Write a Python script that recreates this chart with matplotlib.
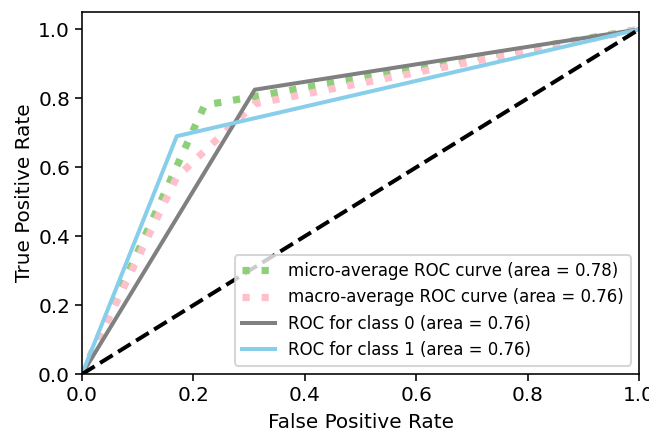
import matplotlib
matplotlib.use('Agg')
import matplotlib.pyplot as plt

# ROC points
micro_fpr = [0.0, 0.22, 1.0]
micro_tpr = [0.0, 0.78, 1.0]
macro_fpr = [0.0, 0.17, 0.31, 1.0]
macro_tpr = [0.0, 0.571, 0.784, 1.0]
fpr_0 = [0.0, 0.31, 1.0]
tpr_0 = [0.0, 0.825, 1.0]
fpr_1 = [0.0, 0.17, 1.0]
tpr_1 = [0.0, 0.69, 1.0]
areas = {'micro': 0.78, 'macro': 0.76, 0: 0.76, 1: 0.76}


def main():
    fig = plt.figure(figsize=(649 / 144, 432 / 144), dpi=144)
    ax = fig.add_axes([0.1264, 0.134, 0.8585, 0.838])

    ax.plot(micro_fpr, micro_tpr, color='#8ecf7a', linestyle=':', linewidth=3.6,
            label='micro-average ROC curve (area = {0:0.2f})'.format(areas['micro']))
    ax.plot(macro_fpr, macro_tpr, color='pink', linestyle=':', linewidth=3.6,
            label='macro-average ROC curve (area = {0:0.2f})'.format(areas['macro']))
    ax.plot(fpr_0, tpr_0, color='gray', lw=2,
            label='ROC for class 0 (area = {0:0.2f})'.format(areas[0]))
    ax.plot(fpr_1, tpr_1, color='skyblue', lw=2,
            label='ROC for class 1 (area = {0:0.2f})'.format(areas[1]))
    ax.plot([0, 1], [0, 1], 'k--', lw=2)

    ax.set_xlim([0.0, 1.0])
    ax.set_ylim([0.0, 1.05])
    ax.tick_params(pad=2.5)
    ax.set_xlabel('False Positive Rate')
    ax.set_ylabel('True Positive Rate', labelpad=2)
    ax.legend(loc='lower right', fontsize='small')

    fig.savefig('out.png', dpi=144)


if __name__ == '__main__':
    main()
